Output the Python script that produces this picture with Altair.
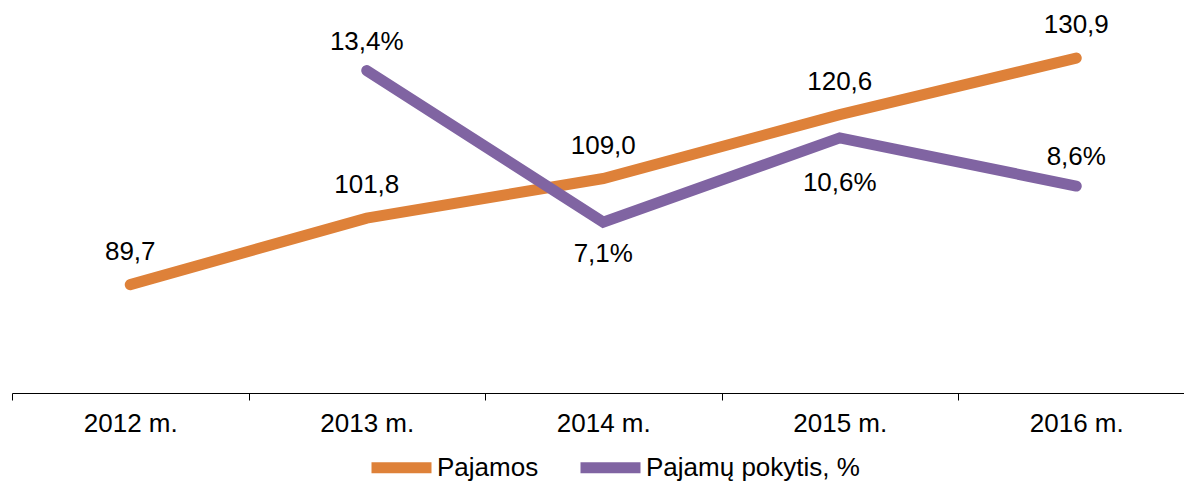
import altair as alt
import pandas as pd

years = ["2012 m.", "2013 m.", "2014 m.", "2015 m.", "2016 m."]
revenue = [89.7, 101.8, 109.0, 120.6, 130.9]
change_years = ["2013 m.", "2014 m.", "2015 m.", "2016 m."]
change = [13.4, 7.1, 10.6, 8.6]
series = ["Pajamos", "Pajamų pokytis, %"]
colors = ["#DE8139", "#8064A2"]

FONT = "Liberation Sans"
FS = 26


def fmt(v):
    return f"{v:.1f}".replace(".", ",")


rev_df = pd.DataFrame({"year": years, "value": revenue, "series": series[0],
                       "label": [fmt(v) for v in revenue]})
chg_df = pd.DataFrame({"year": change_years, "value": change, "series": series[1],
                       "label": [fmt(v) + "%" for v in change]})

xscale = alt.Scale(type="band", domain=years, paddingInner=0, paddingOuter=0, range=[0, 1182.5])
x = alt.X("year:N", sort=years, scale=xscale, bandPosition=0.5,
          axis=alt.Axis(title=None, tickBand="extent", labelFont=FONT, labelFontSize=FS,
                        labelColor="black", domainColor="black", tickColor="black",
                        tickSize=7, labelPadding=10, labelAngle=0, grid=False))

color = alt.Color("series:N", scale=alt.Scale(domain=series, range=colors),
                  legend=alt.Legend(title=None, orient="none", legendX=369, legendY=439,
                                    direction="horizontal", symbolType="M-2,0H2",
                                    symbolStrokeWidth=11, symbolSize=900,
                                    labelFont=FONT, labelFontSize=FS, labelColor="black",
                                    labelLimit=400, columnPadding=19, labelOffset=15,
                                    padding=0))

y1 = alt.Y("value:Q", scale=alt.Scale(domain=[70, 140], nice=False, zero=False), axis=None)
y2 = alt.Y("value:Q", scale=alt.Scale(domain=[0, 16], nice=False, zero=False), axis=None)

rev_line = alt.Chart(rev_df).mark_line(strokeWidth=11, strokeCap="round", strokeJoin="miter").encode(
    x=x, y=y1, color=color)
rev_text = alt.Chart(rev_df).mark_text(font=FONT, fontSize=FS, color="black", dy=-33,
                                       baseline="middle").encode(x=x, y=y1, text="label:N")
layer_a = alt.layer(rev_line, rev_text)

chg_line = alt.Chart(chg_df).mark_line(strokeWidth=11, strokeCap="round", strokeJoin="miter").encode(
    x=x, y=y2, color=color)
chg_text_above = alt.Chart(chg_df).transform_filter(
    alt.FieldOneOfPredicate(field="year", oneOf=["2013 m.", "2016 m."])
).mark_text(font=FONT, fontSize=FS, color="black", dy=-29, baseline="middle").encode(
    x=x, y=y2, text="label:N")
chg_text_below1 = alt.Chart(chg_df).transform_filter(
    alt.FieldEqualPredicate(field="year", equal="2014 m.")
).mark_text(font=FONT, fontSize=FS, color="black", dy=32, baseline="middle").encode(
    x=x, y=y2, text="label:N")
chg_text_below2 = alt.Chart(chg_df).transform_filter(
    alt.FieldEqualPredicate(field="year", equal="2015 m.")
).mark_text(font=FONT, fontSize=FS, color="black", dy=45, baseline="middle").encode(
    x=x, y=y2, text="label:N")
layer_b = alt.layer(chg_line, chg_text_above, chg_text_below1, chg_text_below2)

chart = alt.layer(layer_a, layer_b).resolve_scale(y="independent").properties(
    width=1172, height=385,
    autosize=alt.AutoSizeParams(type="none"),
    padding={"left": 4, "top": 0, "right": 0, "bottom": 90},
).configure_view(stroke=None)

chart.save("out.html", embed_options={"renderer": "svg", "actions": False})
